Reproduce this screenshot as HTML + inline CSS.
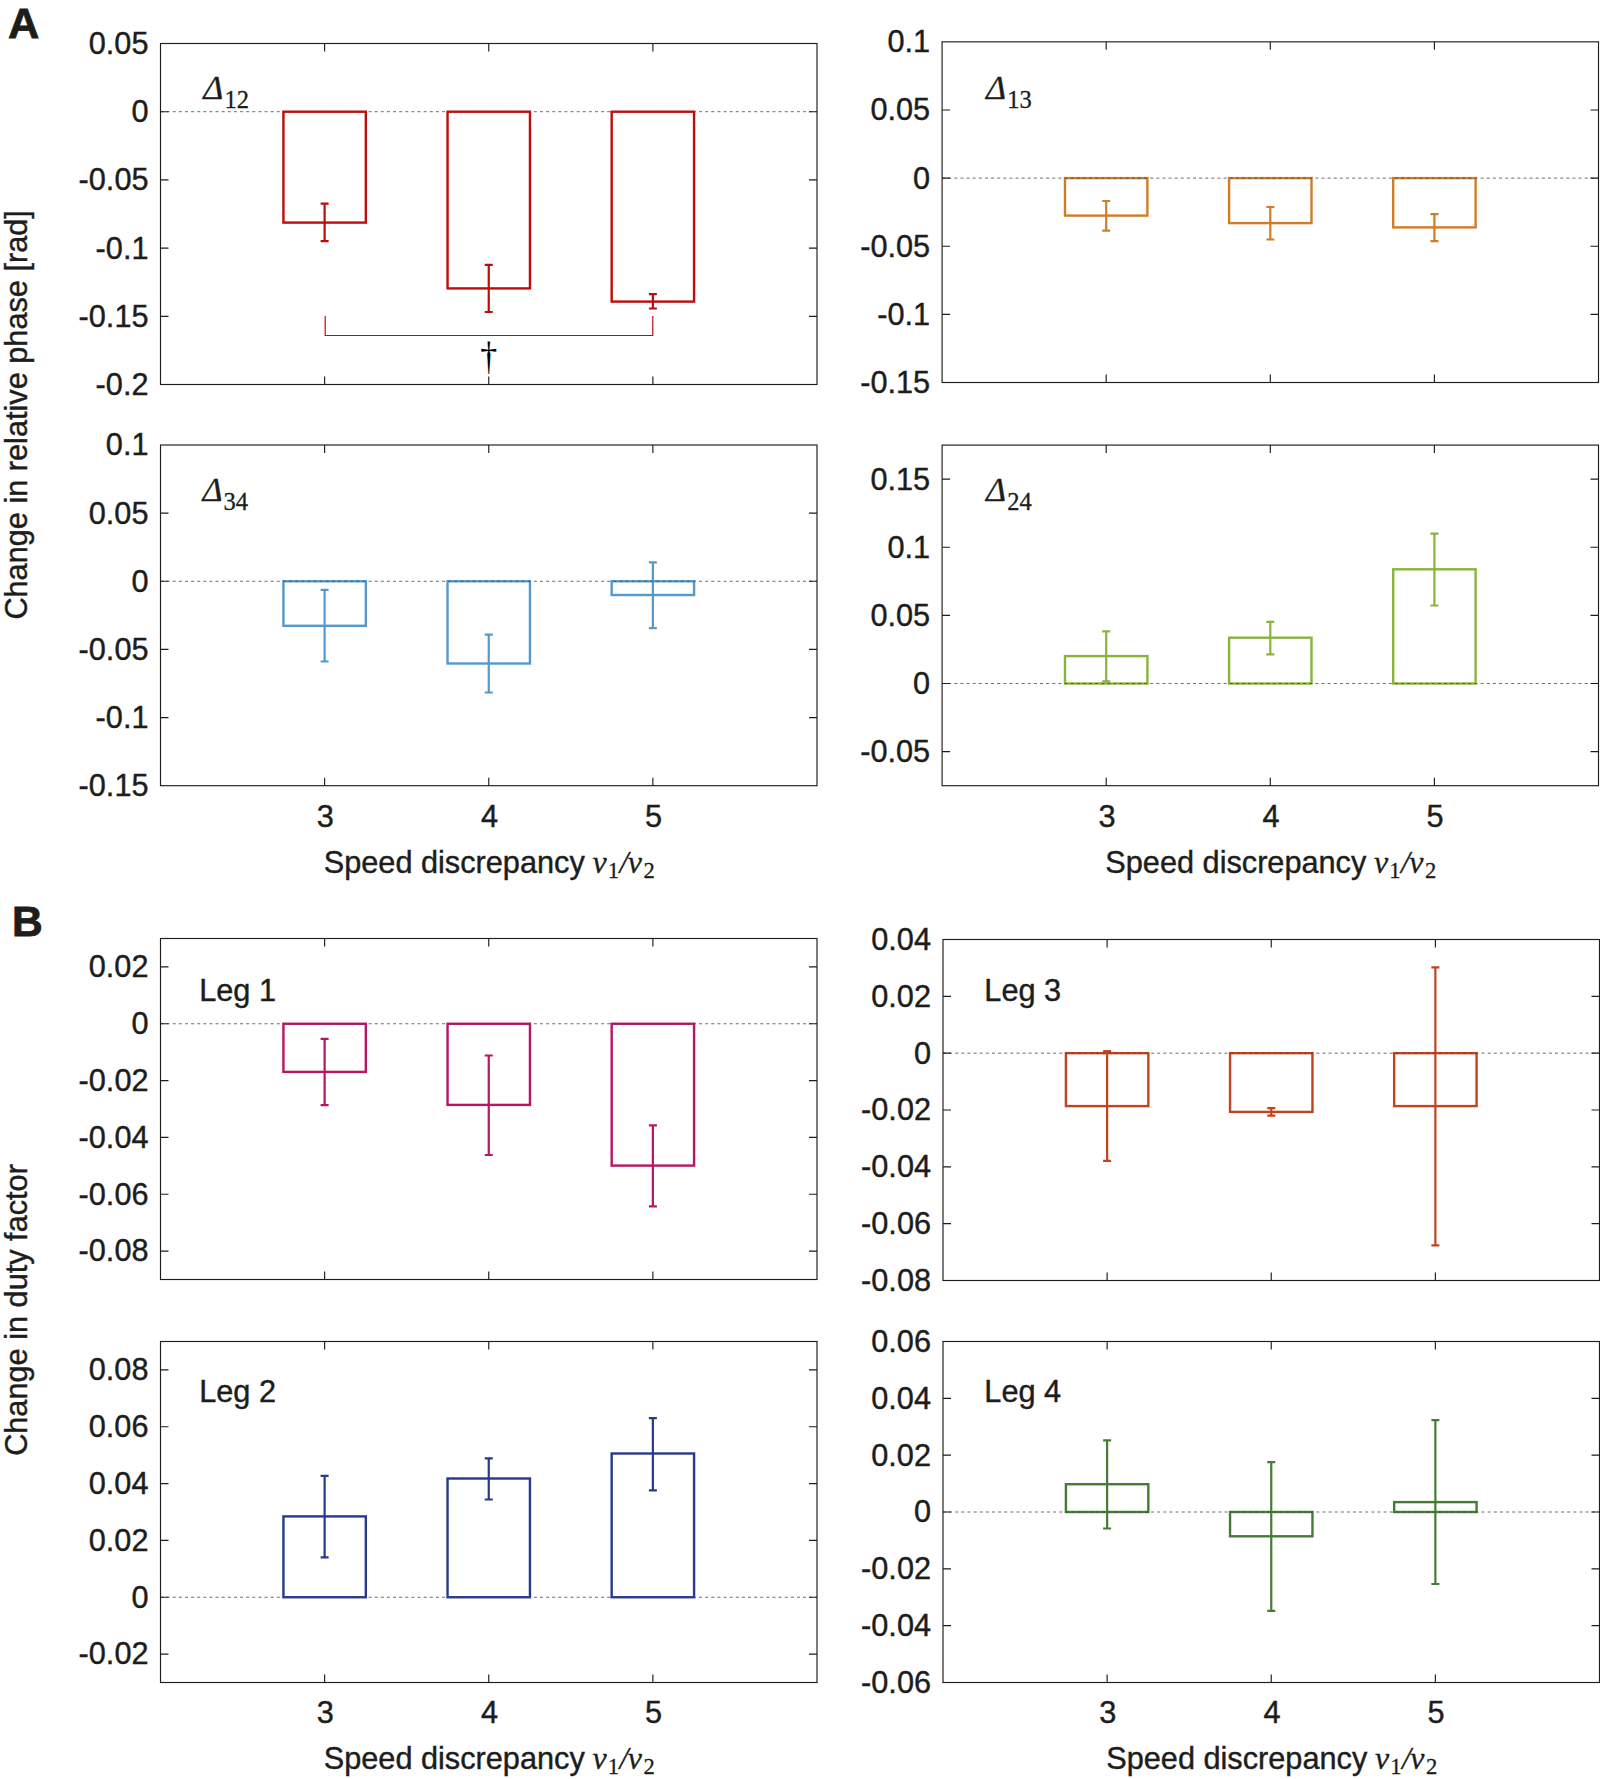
<!DOCTYPE html>
<html lang="en"><head><meta charset="utf-8"><title>Figure</title>
<style>
html,body{margin:0;padding:0;background:#fff}
body{width:1600px;height:1779px;overflow:hidden}
svg{display:block}
text{fill:#1d1d1b}
.s{font-family:"Liberation Sans",sans-serif;font-size:30.7px;stroke:#1d1d1b;stroke-width:.4px}
.l{font-family:"Liberation Sans",sans-serif;font-size:30.7px;stroke:#1d1d1b;stroke-width:.4px}
.b{font-family:"Liberation Sans",sans-serif;font-weight:bold;font-size:44.6px;stroke:#1d1d1b;stroke-width:.8px}
.i{font-family:"Liberation Serif",serif;font-style:italic;font-size:32px;stroke:#1d1d1b;stroke-width:.3px}
.sub{font-family:"Liberation Serif",serif;font-style:normal;font-size:24.5px}
.sub2{font-family:"Liberation Serif",serif;font-style:normal;font-size:22.6px}
.dag{font-family:"Liberation Serif",serif;font-size:34px;fill:#000}
</style></head><body>
<svg width="1600" height="1779" viewBox="0 0 1600 1779">
<rect width="1600" height="1779" fill="#fff"/>
<g><rect x="283.43" y="111.70" width="82.40" height="110.90" fill="none" stroke="#be0c0c" stroke-width="2.4"/>
<path d="M324.62 203.60V241.20M320.62 203.60h8M320.62 241.20h8" fill="none" stroke="#be0c0c" stroke-width="2.2"/>
<rect x="447.55" y="111.70" width="82.40" height="176.70" fill="none" stroke="#be0c0c" stroke-width="2.4"/>
<path d="M488.75 264.80V312.00M484.75 264.80h8M484.75 312.00h8" fill="none" stroke="#be0c0c" stroke-width="2.2"/>
<rect x="611.67" y="111.70" width="82.40" height="189.90" fill="none" stroke="#be0c0c" stroke-width="2.4"/>
<path d="M652.88 294.10V308.50M648.88 294.10h8M648.88 308.50h8" fill="none" stroke="#be0c0c" stroke-width="2.2"/>
<line x1="160.50" y1="111.70" x2="817.00" y2="111.70" stroke="#484848" stroke-width="0.8" stroke-dasharray="3 3.12"/>
<rect x="160.50" y="43.50" width="656.50" height="341.00" fill="none" stroke="#1d1d1b" stroke-width="1.15"/>
<path d="M324.62 43.50v8M324.62 384.50v-8M488.75 43.50v8M488.75 384.50v-8M652.88 43.50v8M652.88 384.50v-8M160.50 111.70h8M817.00 111.70h-8M160.50 179.90h8M817.00 179.90h-8M160.50 248.10h8M817.00 248.10h-8M160.50 316.30h8M817.00 316.30h-8" fill="none" stroke="#1d1d1b" stroke-width="1.15"/>
<text transform="translate(148.50 53.90) scale(1 1.045)" text-anchor="end" class="s">0.05</text>
<text transform="translate(148.50 122.10) scale(1 1.045)" text-anchor="end" class="s">0</text>
<text transform="translate(148.50 190.30) scale(1 1.045)" text-anchor="end" class="s">-0.05</text>
<text transform="translate(148.50 258.50) scale(1 1.045)" text-anchor="end" class="s">-0.1</text>
<text transform="translate(148.50 326.70) scale(1 1.045)" text-anchor="end" class="s">-0.15</text>
<text transform="translate(148.50 394.90) scale(1 1.045)" text-anchor="end" class="s">-0.2</text>
<text x="203.30" y="99.00" class="i" style="font-size:34.2px">Δ<tspan class="sub" dy="9.4" dx="1">12</tspan></text></g>
<g><rect x="1065.00" y="178.11" width="82.40" height="37.49" fill="none" stroke="#cf7d26" stroke-width="2.4"/>
<path d="M1106.20 201.00V230.60M1102.20 201.00h8M1102.20 230.60h8" fill="none" stroke="#cf7d26" stroke-width="2.2"/>
<rect x="1229.10" y="178.11" width="82.40" height="44.99" fill="none" stroke="#cf7d26" stroke-width="2.4"/>
<path d="M1270.30 207.00V239.50M1266.30 207.00h8M1266.30 239.50h8" fill="none" stroke="#cf7d26" stroke-width="2.2"/>
<rect x="1393.20" y="178.11" width="82.40" height="49.29" fill="none" stroke="#cf7d26" stroke-width="2.4"/>
<path d="M1434.40 214.20V241.20M1430.40 214.20h8M1430.40 241.20h8" fill="none" stroke="#cf7d26" stroke-width="2.2"/>
<line x1="942.10" y1="178.11" x2="1598.50" y2="178.11" stroke="#484848" stroke-width="0.8" stroke-dasharray="3 3.12"/>
<rect x="942.10" y="41.85" width="656.40" height="340.65" fill="none" stroke="#1d1d1b" stroke-width="1.15"/>
<path d="M1106.20 41.85v8M1106.20 382.50v-8M1270.30 41.85v8M1270.30 382.50v-8M1434.40 41.85v8M1434.40 382.50v-8M942.10 109.98h8M1598.50 109.98h-8M942.10 178.11h8M1598.50 178.11h-8M942.10 246.24h8M1598.50 246.24h-8M942.10 314.37h8M1598.50 314.37h-8" fill="none" stroke="#1d1d1b" stroke-width="1.15"/>
<text transform="translate(930.10 52.25) scale(1 1.045)" text-anchor="end" class="s">0.1</text>
<text transform="translate(930.10 120.38) scale(1 1.045)" text-anchor="end" class="s">0.05</text>
<text transform="translate(930.10 188.51) scale(1 1.045)" text-anchor="end" class="s">0</text>
<text transform="translate(930.10 256.64) scale(1 1.045)" text-anchor="end" class="s">-0.05</text>
<text transform="translate(930.10 324.77) scale(1 1.045)" text-anchor="end" class="s">-0.1</text>
<text transform="translate(930.10 392.90) scale(1 1.045)" text-anchor="end" class="s">-0.15</text>
<text x="986.10" y="98.90" class="i" style="font-size:34.2px">Δ<tspan class="sub" dy="9.4" dx="1">13</tspan></text></g>
<g><rect x="283.43" y="581.28" width="82.40" height="44.52" fill="none" stroke="#5598cc" stroke-width="2.4"/>
<path d="M324.62 589.90V661.50M320.62 589.90h8M320.62 661.50h8" fill="none" stroke="#5598cc" stroke-width="2.2"/>
<rect x="447.55" y="581.28" width="82.40" height="82.22" fill="none" stroke="#5598cc" stroke-width="2.4"/>
<path d="M488.75 634.70V692.50M484.75 634.70h8M484.75 692.50h8" fill="none" stroke="#5598cc" stroke-width="2.2"/>
<rect x="611.67" y="581.28" width="82.40" height="13.72" fill="none" stroke="#5598cc" stroke-width="2.4"/>
<path d="M652.88 562.30V628.10M648.88 562.30h8M648.88 628.10h8" fill="none" stroke="#5598cc" stroke-width="2.2"/>
<line x1="160.50" y1="581.28" x2="817.00" y2="581.28" stroke="#484848" stroke-width="0.8" stroke-dasharray="3 3.12"/>
<rect x="160.50" y="445.00" width="656.50" height="340.70" fill="none" stroke="#1d1d1b" stroke-width="1.15"/>
<path d="M324.62 445.00v8M324.62 785.70v-8M488.75 445.00v8M488.75 785.70v-8M652.88 445.00v8M652.88 785.70v-8M160.50 513.14h8M817.00 513.14h-8M160.50 581.28h8M817.00 581.28h-8M160.50 649.42h8M817.00 649.42h-8M160.50 717.56h8M817.00 717.56h-8" fill="none" stroke="#1d1d1b" stroke-width="1.15"/>
<text transform="translate(148.50 455.40) scale(1 1.045)" text-anchor="end" class="s">0.1</text>
<text transform="translate(148.50 523.54) scale(1 1.045)" text-anchor="end" class="s">0.05</text>
<text transform="translate(148.50 591.68) scale(1 1.045)" text-anchor="end" class="s">0</text>
<text transform="translate(148.50 659.82) scale(1 1.045)" text-anchor="end" class="s">-0.05</text>
<text transform="translate(148.50 727.96) scale(1 1.045)" text-anchor="end" class="s">-0.1</text>
<text transform="translate(148.50 796.10) scale(1 1.045)" text-anchor="end" class="s">-0.15</text>
<text transform="translate(325.32 826.90) scale(1 1.045)" text-anchor="middle" class="s">3</text>
<text transform="translate(489.45 826.90) scale(1 1.045)" text-anchor="middle" class="s">4</text>
<text transform="translate(653.58 826.90) scale(1 1.045)" text-anchor="middle" class="s">5</text>
<text x="323.73" y="872.80" class="l">Speed discrepancy</text>
<text x="592.52" y="872.80" class="i">v<tspan class="sub2" dy="4.7" dx="1">1</tspan><tspan class="i" dy="-4.7" dx="0.4">/</tspan><tspan class="i" dx="-0.6">v</tspan><tspan class="sub2" dy="4.7" dx="1.6">2</tspan></text>
<text x="202.40" y="500.90" class="i" style="font-size:34.2px">Δ<tspan class="sub" dy="9.4" dx="1">34</tspan></text></g>
<g><rect x="1065.00" y="656.10" width="82.40" height="27.42" fill="none" stroke="#89b43c" stroke-width="2.4"/>
<path d="M1106.20 631.40V681.40M1102.20 631.40h8M1102.20 681.40h8" fill="none" stroke="#89b43c" stroke-width="2.2"/>
<rect x="1229.10" y="637.70" width="82.40" height="45.82" fill="none" stroke="#89b43c" stroke-width="2.4"/>
<path d="M1270.30 621.90V654.40M1266.30 621.90h8M1266.30 654.40h8" fill="none" stroke="#89b43c" stroke-width="2.2"/>
<rect x="1393.20" y="569.30" width="82.40" height="114.22" fill="none" stroke="#89b43c" stroke-width="2.4"/>
<path d="M1434.40 533.60V605.50M1430.40 533.60h8M1430.40 605.50h8" fill="none" stroke="#89b43c" stroke-width="2.2"/>
<line x1="942.10" y1="683.52" x2="1598.50" y2="683.52" stroke="#484848" stroke-width="0.8" stroke-dasharray="3 3.12"/>
<rect x="942.10" y="445.10" width="656.40" height="340.60" fill="none" stroke="#1d1d1b" stroke-width="1.15"/>
<path d="M1106.20 445.10v8M1106.20 785.70v-8M1270.30 445.10v8M1270.30 785.70v-8M1434.40 445.10v8M1434.40 785.70v-8M942.10 479.16h8M1598.50 479.16h-8M942.10 547.28h8M1598.50 547.28h-8M942.10 615.40h8M1598.50 615.40h-8M942.10 683.52h8M1598.50 683.52h-8M942.10 751.64h8M1598.50 751.64h-8" fill="none" stroke="#1d1d1b" stroke-width="1.15"/>
<text transform="translate(930.10 489.56) scale(1 1.045)" text-anchor="end" class="s">0.15</text>
<text transform="translate(930.10 557.68) scale(1 1.045)" text-anchor="end" class="s">0.1</text>
<text transform="translate(930.10 625.80) scale(1 1.045)" text-anchor="end" class="s">0.05</text>
<text transform="translate(930.10 693.92) scale(1 1.045)" text-anchor="end" class="s">0</text>
<text transform="translate(930.10 762.04) scale(1 1.045)" text-anchor="end" class="s">-0.05</text>
<text transform="translate(1106.90 826.90) scale(1 1.045)" text-anchor="middle" class="s">3</text>
<text transform="translate(1271.00 826.90) scale(1 1.045)" text-anchor="middle" class="s">4</text>
<text transform="translate(1435.10 826.90) scale(1 1.045)" text-anchor="middle" class="s">5</text>
<text x="1105.30" y="872.80" class="l">Speed discrepancy</text>
<text x="1374.10" y="872.80" class="i">v<tspan class="sub2" dy="4.7" dx="1">1</tspan><tspan class="i" dy="-4.7" dx="0.4">/</tspan><tspan class="i" dx="-0.6">v</tspan><tspan class="sub2" dy="4.7" dx="1.6">2</tspan></text>
<text x="986.10" y="500.90" class="i" style="font-size:34.2px">Δ<tspan class="sub" dy="9.4" dx="1">24</tspan></text></g>
<g><rect x="283.43" y="1023.75" width="82.40" height="48.15" fill="none" stroke="#b81565" stroke-width="2.4"/>
<path d="M324.62 1038.80V1105.20M320.62 1038.80h8M320.62 1105.20h8" fill="none" stroke="#b81565" stroke-width="2.2"/>
<rect x="447.55" y="1023.75" width="82.40" height="81.15" fill="none" stroke="#b81565" stroke-width="2.4"/>
<path d="M488.75 1055.50V1155.00M484.75 1055.50h8M484.75 1155.00h8" fill="none" stroke="#b81565" stroke-width="2.2"/>
<rect x="611.67" y="1023.75" width="82.40" height="141.85" fill="none" stroke="#b81565" stroke-width="2.4"/>
<path d="M652.88 1125.40V1206.40M648.88 1125.40h8M648.88 1206.40h8" fill="none" stroke="#b81565" stroke-width="2.2"/>
<line x1="160.50" y1="1023.75" x2="817.00" y2="1023.75" stroke="#484848" stroke-width="0.8" stroke-dasharray="3 3.12"/>
<rect x="160.50" y="938.50" width="656.50" height="341.00" fill="none" stroke="#1d1d1b" stroke-width="1.15"/>
<path d="M324.62 938.50v8M324.62 1279.50v-8M488.75 938.50v8M488.75 1279.50v-8M652.88 938.50v8M652.88 1279.50v-8M160.50 966.92h8M817.00 966.92h-8M160.50 1023.75h8M817.00 1023.75h-8M160.50 1080.58h8M817.00 1080.58h-8M160.50 1137.42h8M817.00 1137.42h-8M160.50 1194.25h8M817.00 1194.25h-8M160.50 1251.08h8M817.00 1251.08h-8" fill="none" stroke="#1d1d1b" stroke-width="1.15"/>
<text transform="translate(148.50 977.32) scale(1 1.045)" text-anchor="end" class="s">0.02</text>
<text transform="translate(148.50 1034.15) scale(1 1.045)" text-anchor="end" class="s">0</text>
<text transform="translate(148.50 1090.98) scale(1 1.045)" text-anchor="end" class="s">-0.02</text>
<text transform="translate(148.50 1147.82) scale(1 1.045)" text-anchor="end" class="s">-0.04</text>
<text transform="translate(148.50 1204.65) scale(1 1.045)" text-anchor="end" class="s">-0.06</text>
<text transform="translate(148.50 1261.48) scale(1 1.045)" text-anchor="end" class="s">-0.08</text>
<text transform="translate(199.20 1001.00) scale(1 1.03)" class="l">Leg 1</text></g>
<g><rect x="1065.92" y="1053.17" width="82.40" height="52.93" fill="none" stroke="#bf441f" stroke-width="2.4"/>
<path d="M1107.12 1051.20V1160.80M1103.12 1051.20h8M1103.12 1160.80h8" fill="none" stroke="#bf441f" stroke-width="2.2"/>
<rect x="1230.05" y="1053.17" width="82.40" height="58.73" fill="none" stroke="#bf441f" stroke-width="2.4"/>
<path d="M1271.25 1108.10V1115.60M1267.25 1108.10h8M1267.25 1115.60h8" fill="none" stroke="#bf441f" stroke-width="2.2"/>
<rect x="1394.17" y="1053.17" width="82.40" height="52.93" fill="none" stroke="#bf441f" stroke-width="2.4"/>
<path d="M1435.38 967.30V1245.30M1431.38 967.30h8M1431.38 1245.30h8" fill="none" stroke="#bf441f" stroke-width="2.2"/>
<line x1="943.00" y1="1053.17" x2="1599.50" y2="1053.17" stroke="#484848" stroke-width="0.8" stroke-dasharray="3 3.12"/>
<rect x="943.00" y="939.50" width="656.50" height="341.00" fill="none" stroke="#1d1d1b" stroke-width="1.15"/>
<path d="M1107.12 939.50v8M1107.12 1280.50v-8M1271.25 939.50v8M1271.25 1280.50v-8M1435.38 939.50v8M1435.38 1280.50v-8M943.00 996.33h8M1599.50 996.33h-8M943.00 1053.17h8M1599.50 1053.17h-8M943.00 1110.00h8M1599.50 1110.00h-8M943.00 1166.83h8M1599.50 1166.83h-8M943.00 1223.67h8M1599.50 1223.67h-8" fill="none" stroke="#1d1d1b" stroke-width="1.15"/>
<text transform="translate(931.00 949.90) scale(1 1.045)" text-anchor="end" class="s">0.04</text>
<text transform="translate(931.00 1006.73) scale(1 1.045)" text-anchor="end" class="s">0.02</text>
<text transform="translate(931.00 1063.57) scale(1 1.045)" text-anchor="end" class="s">0</text>
<text transform="translate(931.00 1120.40) scale(1 1.045)" text-anchor="end" class="s">-0.02</text>
<text transform="translate(931.00 1177.23) scale(1 1.045)" text-anchor="end" class="s">-0.04</text>
<text transform="translate(931.00 1234.07) scale(1 1.045)" text-anchor="end" class="s">-0.06</text>
<text transform="translate(931.00 1290.90) scale(1 1.045)" text-anchor="end" class="s">-0.08</text>
<text transform="translate(984.35 1001.00) scale(1 1.03)" class="l">Leg 3</text></g>
<g><rect x="283.43" y="1516.40" width="82.40" height="80.85" fill="none" stroke="#263a8d" stroke-width="2.4"/>
<path d="M324.62 1475.90V1557.30M320.62 1475.90h8M320.62 1557.30h8" fill="none" stroke="#263a8d" stroke-width="2.2"/>
<rect x="447.55" y="1478.50" width="82.40" height="118.75" fill="none" stroke="#263a8d" stroke-width="2.4"/>
<path d="M488.75 1458.40V1499.50M484.75 1458.40h8M484.75 1499.50h8" fill="none" stroke="#263a8d" stroke-width="2.2"/>
<rect x="611.67" y="1453.50" width="82.40" height="143.75" fill="none" stroke="#263a8d" stroke-width="2.4"/>
<path d="M652.88 1418.10V1490.30M648.88 1418.10h8M648.88 1490.30h8" fill="none" stroke="#263a8d" stroke-width="2.2"/>
<line x1="160.50" y1="1597.25" x2="817.00" y2="1597.25" stroke="#484848" stroke-width="0.8" stroke-dasharray="3 3.12"/>
<rect x="160.50" y="1341.50" width="656.50" height="341.00" fill="none" stroke="#1d1d1b" stroke-width="1.15"/>
<path d="M324.62 1341.50v8M324.62 1682.50v-8M488.75 1341.50v8M488.75 1682.50v-8M652.88 1341.50v8M652.88 1682.50v-8M160.50 1369.92h8M817.00 1369.92h-8M160.50 1426.75h8M817.00 1426.75h-8M160.50 1483.58h8M817.00 1483.58h-8M160.50 1540.42h8M817.00 1540.42h-8M160.50 1597.25h8M817.00 1597.25h-8M160.50 1654.08h8M817.00 1654.08h-8" fill="none" stroke="#1d1d1b" stroke-width="1.15"/>
<text transform="translate(148.50 1380.32) scale(1 1.045)" text-anchor="end" class="s">0.08</text>
<text transform="translate(148.50 1437.15) scale(1 1.045)" text-anchor="end" class="s">0.06</text>
<text transform="translate(148.50 1493.98) scale(1 1.045)" text-anchor="end" class="s">0.04</text>
<text transform="translate(148.50 1550.82) scale(1 1.045)" text-anchor="end" class="s">0.02</text>
<text transform="translate(148.50 1607.65) scale(1 1.045)" text-anchor="end" class="s">0</text>
<text transform="translate(148.50 1664.48) scale(1 1.045)" text-anchor="end" class="s">-0.02</text>
<text transform="translate(325.32 1723.20) scale(1 1.045)" text-anchor="middle" class="s">3</text>
<text transform="translate(489.45 1723.20) scale(1 1.045)" text-anchor="middle" class="s">4</text>
<text transform="translate(653.58 1723.20) scale(1 1.045)" text-anchor="middle" class="s">5</text>
<text x="323.73" y="1768.90" class="l">Speed discrepancy</text>
<text x="592.52" y="1768.90" class="i">v<tspan class="sub2" dy="4.7" dx="1">1</tspan><tspan class="i" dy="-4.7" dx="0.4">/</tspan><tspan class="i" dx="-0.6">v</tspan><tspan class="sub2" dy="4.7" dx="1.6">2</tspan></text>
<text transform="translate(199.20 1401.90) scale(1 1.03)" class="l">Leg 2</text></g>
<g><rect x="1065.92" y="1484.20" width="82.40" height="27.80" fill="none" stroke="#437d33" stroke-width="2.4"/>
<path d="M1107.12 1440.30V1528.50M1103.12 1440.30h8M1103.12 1528.50h8" fill="none" stroke="#437d33" stroke-width="2.2"/>
<rect x="1230.05" y="1512.00" width="82.40" height="24.30" fill="none" stroke="#437d33" stroke-width="2.4"/>
<path d="M1271.25 1462.10V1610.80M1267.25 1462.10h8M1267.25 1610.80h8" fill="none" stroke="#437d33" stroke-width="2.2"/>
<rect x="1394.17" y="1502.10" width="82.40" height="9.90" fill="none" stroke="#437d33" stroke-width="2.4"/>
<path d="M1435.38 1420.10V1584.00M1431.38 1420.10h8M1431.38 1584.00h8" fill="none" stroke="#437d33" stroke-width="2.2"/>
<line x1="943.00" y1="1512.00" x2="1599.50" y2="1512.00" stroke="#484848" stroke-width="0.8" stroke-dasharray="3 3.12"/>
<rect x="943.00" y="1341.50" width="656.50" height="341.00" fill="none" stroke="#1d1d1b" stroke-width="1.15"/>
<path d="M1107.12 1341.50v8M1107.12 1682.50v-8M1271.25 1341.50v8M1271.25 1682.50v-8M1435.38 1341.50v8M1435.38 1682.50v-8M943.00 1398.33h8M1599.50 1398.33h-8M943.00 1455.17h8M1599.50 1455.17h-8M943.00 1512.00h8M1599.50 1512.00h-8M943.00 1568.83h8M1599.50 1568.83h-8M943.00 1625.67h8M1599.50 1625.67h-8" fill="none" stroke="#1d1d1b" stroke-width="1.15"/>
<text transform="translate(931.00 1351.90) scale(1 1.045)" text-anchor="end" class="s">0.06</text>
<text transform="translate(931.00 1408.73) scale(1 1.045)" text-anchor="end" class="s">0.04</text>
<text transform="translate(931.00 1465.57) scale(1 1.045)" text-anchor="end" class="s">0.02</text>
<text transform="translate(931.00 1522.40) scale(1 1.045)" text-anchor="end" class="s">0</text>
<text transform="translate(931.00 1579.23) scale(1 1.045)" text-anchor="end" class="s">-0.02</text>
<text transform="translate(931.00 1636.07) scale(1 1.045)" text-anchor="end" class="s">-0.04</text>
<text transform="translate(931.00 1692.90) scale(1 1.045)" text-anchor="end" class="s">-0.06</text>
<text transform="translate(1107.83 1723.20) scale(1 1.045)" text-anchor="middle" class="s">3</text>
<text transform="translate(1271.95 1723.20) scale(1 1.045)" text-anchor="middle" class="s">4</text>
<text transform="translate(1436.08 1723.20) scale(1 1.045)" text-anchor="middle" class="s">5</text>
<text x="1106.22" y="1768.90" class="l">Speed discrepancy</text>
<text x="1375.03" y="1768.90" class="i">v<tspan class="sub2" dy="4.7" dx="1">1</tspan><tspan class="i" dy="-4.7" dx="0.4">/</tspan><tspan class="i" dx="-0.6">v</tspan><tspan class="sub2" dy="4.7" dx="1.6">2</tspan></text>
<text transform="translate(984.35 1401.90) scale(1 1.03)" class="l">Leg 4</text></g>
<path d="M325.2 316V335.5H652.8V316" fill="none" stroke="#be0c0c" stroke-width="1.2"/>
<text transform="translate(488.8 369) scale(1 1.176)" text-anchor="middle" class="dag">†</text>
<text transform="translate(26.6 414.9) rotate(-90)" text-anchor="middle" class="l">Change in relative phase [rad]</text>
<text transform="translate(26.6 1310) rotate(-90)" text-anchor="middle" class="l">Change in duty factor</text>
<text x="8.0" y="38.2" class="b" style="font-size:43.4px">A</text>
<text x="12.0" y="936.0" class="b" style="font-size:42.6px">B</text>
</svg>
</body></html>
